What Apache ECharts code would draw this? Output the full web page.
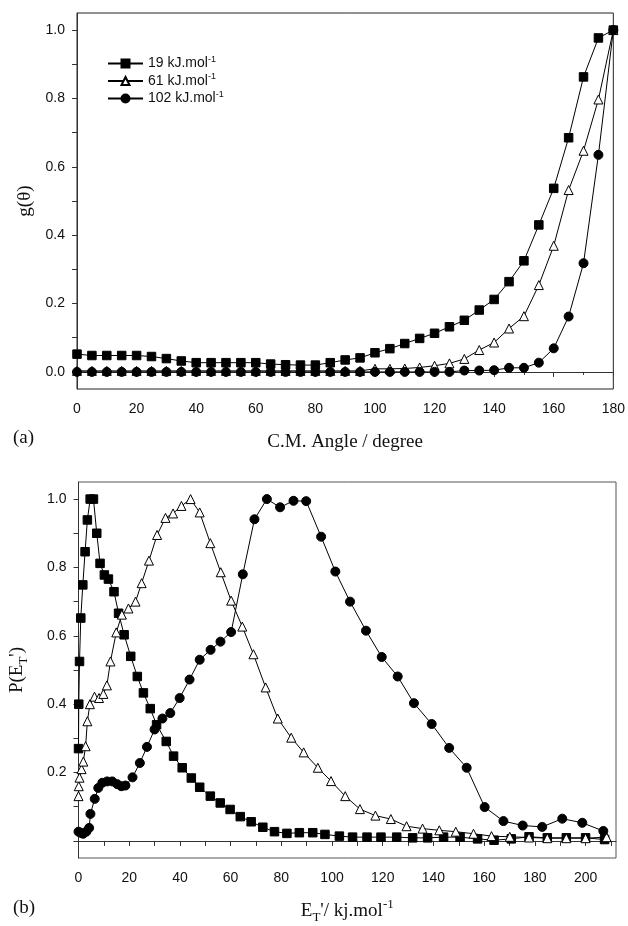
<!DOCTYPE html>
<html>
<head>
<meta charset="utf-8">
<script src="https://cdn.jsdelivr.net/npm/echarts@6/dist/echarts.min.js"></script>
<style>
  html, body { margin: 0; padding: 0; background: #fff; }
  #main { width: 628px; height: 926px; }
</style>
</head>
<body>
<div id="main"></div>
<script>
// panel (a): angular distributions
const angle = [0, 5, 10, 15, 20, 25, 30, 35, 40, 45, 50, 55, 60, 65, 70, 75, 80, 85, 90, 95,
  100, 105, 110, 115, 120, 125, 130, 135, 140, 145, 150, 155, 160, 165, 170, 175, 180];
const g19 = [0.052, 0.048, 0.048, 0.048, 0.048, 0.045, 0.039, 0.032, 0.027, 0.027, 0.027, 0.027,
  0.027, 0.023, 0.021, 0.020, 0.020, 0.027, 0.035, 0.041, 0.056, 0.068, 0.083, 0.098, 0.113,
  0.132, 0.151, 0.181, 0.212, 0.264, 0.325, 0.430, 0.537, 0.685, 0.863, 0.977, 1.0];
const g61 = [0.003, 0.003, 0.003, 0.003, 0.003, 0.003, 0.003, 0.003, 0.003, 0.003, 0.003, 0.003,
  0.003, 0.003, 0.003, 0.003, 0.003, 0.003, 0.003, 0.003, 0.009, 0.009, 0.010, 0.013, 0.018,
  0.025, 0.038, 0.064, 0.086, 0.127, 0.163, 0.254, 0.369, 0.532, 0.647, 0.797, 1.0];
const g102 = [0, 0, 0, 0, 0, 0, 0, 0, 0, 0, 0, 0, 0, 0, 0, 0, 0, 0, 0, 0, 0, 0, 0, 0, 0, 0,
  0.004, 0.004, 0.005, 0.012, 0.012, 0.027, 0.069, 0.162, 0.318, 0.635, 1.0];

// panel (b): translational energy distributions
const et19 = [0, 0.1, 0.4, 0.9, 1.7, 2.6, 3.5, 4.6, 5.9, 7.2, 8.5, 10.2, 11.8, 14.0, 15.8, 18.0,
  20.6, 23.2, 25.6, 28.3, 30.8, 34.6, 37.5, 40.9, 44.5, 47.8, 52.0, 55.9, 59.8, 63.8, 68.1, 72.7,
  77.3, 82.2, 87.1, 92.4, 97.2, 102.9, 108.1, 113.8, 119.3, 125.5, 131.8, 137.7, 144.0, 150.5,
  157.4, 163.9, 170.7, 177.7, 184.9, 192.4, 200.0, 207.5];
const p19 = [0.27, 0.40, 0.525, 0.652, 0.749, 0.846, 0.939, 1.0, 1.0, 0.90, 0.812, 0.778, 0.766,
  0.729, 0.666, 0.603, 0.54, 0.481, 0.433, 0.387, 0.34, 0.291, 0.248, 0.214, 0.184, 0.157, 0.131,
  0.111, 0.092, 0.071, 0.056, 0.04, 0.027, 0.022, 0.024, 0.024, 0.019, 0.014, 0.011, 0.011, 0.011,
  0.011, 0.009, 0.009, 0.011, 0.011, 0.006, 0.002, 0.006, 0.012, 0.009, 0.009, 0.009, 0.004];
const et61 = [0, 0.1, 0.4, 1.2, 1.9, 2.8, 3.5, 4.5, 6.3, 8.1, 9.8, 11.2, 12.6, 14.9, 17.1, 19.7,
  22.5, 24.9, 27.8, 31.0, 34.3, 37.3, 40.6, 44.2, 47.8, 52.0, 56.1, 60.2, 64.6, 69.0, 73.8, 78.6,
  83.9, 88.8, 94.4, 99.6, 105.2, 111.0, 117.1, 123.2, 129.4, 135.7, 142.3, 148.8, 155.8, 162.9,
  170.1, 177.7, 184.9, 192.4, 200.0, 208.3];
const p61 = [0.131, 0.16, 0.185, 0.21, 0.232, 0.277, 0.35, 0.40, 0.422, 0.418, 0.43, 0.455, 0.525,
  0.61, 0.662, 0.68, 0.70, 0.754, 0.82, 0.895, 0.945, 0.958, 0.98, 1.0, 0.961, 0.871, 0.786, 0.703,
  0.627, 0.546, 0.449, 0.358, 0.302, 0.259, 0.214, 0.175, 0.131, 0.093, 0.074, 0.064, 0.043, 0.036,
  0.031, 0.027, 0.021, 0.014, 0.012, 0.01, 0.008, 0.008, 0.008, 0.011];
const et102 = [0, 0.8, 1.8, 3.1, 4.2, 4.7, 6.4, 7.8, 9.4, 11.3, 13.3, 15.3, 16.9, 18.5, 21.3, 24.2,
  27.0, 30.0, 33.1, 36.2, 39.9, 43.8, 47.8, 52.1, 56.0, 60.2, 64.8, 69.4, 74.3, 79.5, 84.8, 89.8,
  95.7, 101.3, 107.1, 113.4, 119.6, 125.9, 132.3, 139.3, 146.2, 153.1, 160.2, 167.6, 175.2, 182.9,
  190.8, 198.7, 207.0];
const p102 = [0.027, 0.024, 0.021, 0.027, 0.038, 0.079, 0.123, 0.155, 0.17, 0.174, 0.174, 0.166,
  0.16, 0.162, 0.186, 0.228, 0.275, 0.326, 0.358, 0.374, 0.418, 0.472, 0.53, 0.559, 0.583, 0.611,
  0.78, 0.941, 1.0, 0.976, 0.995, 0.994, 0.89, 0.788, 0.70, 0.615, 0.538, 0.481, 0.403, 0.342,
  0.272, 0.214, 0.099, 0.058, 0.045, 0.041, 0.065, 0.053, 0.029];

const energies = ['19', '61', '102'];
const yLabelsA = [0, 0.2, 0.4, 0.6, 0.8, 1.0];
const yLabelsB = [0.2, 0.4, 0.6, 0.8, 1.0];
const yTicks = [0, 0.1, 0.2, 0.3, 0.4, 0.5, 0.6, 0.7, 0.8, 0.9, 1.0];
const xLabelsB = [0, 20, 40, 60, 80, 100, 120, 140, 160, 180, 200];
const xTicksB = [0, 10, 20, 30, 40, 50, 60, 70, 80, 90, 100, 110, 120, 130, 140, 150, 160, 170,
  180, 190, 200, 210];

const chart = echarts.init(document.getElementById('main'));

const sans = 'Liberation Sans, Arial, sans-serif';
const serif = 'Liberation Serif, Times New Roman, serif';
const names = energies.map(e => e + ' kJ.mol-1');

const zip = (xs, ys) => xs.map((x, i) => [x, ys[i]]);

const axisCommon = {
  axisLine: { lineStyle: { color: '#333', width: 1 } },
  axisTick: { lineStyle: { color: '#333' }, length: 5 },
  axisLabel: { color: '#111', fontFamily: sans, fontSize: 14 },
  splitLine: { show: false },
  nameTextStyle: { color: '#111', fontFamily: serif, fontSize: 19 }
};

const nameRich = {
  n: { fontFamily: serif, fontSize: 19, color: '#111', lineHeight: 26, verticalAlign: 'middle' },
  sub: { fontFamily: serif, fontSize: 13, color: '#111', lineHeight: 13, verticalAlign: 'bottom' },
  sup: { fontFamily: serif, fontSize: 13, color: '#111', lineHeight: 13, verticalAlign: 'top' }
};

const markers = [
  { symbol: 'rect', size: 8.5, fill: '#000' },
  { symbol: 'triangle', size: 9, fill: '#fff' },
  { symbol: 'circle', size: 9, fill: '#000' }
];

function makeSeries(i, data, axisIdx) {
  return {
    name: names[i],
    type: 'line',
    xAxisIndex: axisIdx,
    yAxisIndex: axisIdx,
    data: data,
    symbol: markers[i].symbol,
    symbolSize: markers[i].size,
    showAllSymbol: true,
    animation: false,
    itemStyle: { color: markers[i].fill, borderColor: '#000', borderWidth: 1 },
    lineStyle: { color: '#000', width: 1 }
  };
}

const option = {
  backgroundColor: '#fff',
  animation: false,
  grid: [
    { left: 77, right: 12, top: 13, height: 376, show: true, borderColor: '#222', borderWidth: 1 },
    { left: 77, right: 12, top: 482, height: 376, show: true, borderColor: '#555', borderWidth: 1 }
  ],
  legend: {
    data: names,
    orient: 'vertical',
    left: 102,
    top: 50,
    itemWidth: 35,
    itemHeight: 10,
    itemGap: 2,
    textStyle: {
      fontFamily: sans, fontSize: 14, color: '#111',
      rich: {
        t: { fontFamily: sans, fontSize: 14, color: '#111', lineHeight: 17, verticalAlign: 'middle' },
        s: { fontFamily: sans, fontSize: 9, color: '#111', lineHeight: 9, verticalAlign: 'top' }
      }
    },
    formatter: name => '{t|' + name.replace('-1', '') + '}{s|-1}'
  },
  xAxis: [
    Object.assign({}, axisCommon, {
      gridIndex: 0, type: 'value', min: 0, max: 180, interval: 20,
      minorTick: { show: true, splitNumber: 2, length: 3, lineStyle: { color: '#333' } },
      axisLabel: Object.assign({}, axisCommon.axisLabel, { margin: 13 }),
      name: 'C.M. Angle / degree', nameLocation: 'middle', nameGap: 44
    }),
    Object.assign({}, axisCommon, {
      gridIndex: 1, type: 'value', min: 0, max: 212,
      axisLabel: Object.assign({}, axisCommon.axisLabel, { margin: 13, customValues: xLabelsB }),
      axisTick: Object.assign({}, axisCommon.axisTick, { customValues: xTicksB }),
      name: "{n|E}{sub|T}{n|'/ kj.mol}{sup|-1}", nameLocation: 'middle', nameGap: 40,
      nameTextStyle: { rich: nameRich }
    })
  ],
  yAxis: [
    Object.assign({}, axisCommon, {
      gridIndex: 0, type: 'value', min: -0.05, max: 1.05,
      axisLabel: Object.assign({}, axisCommon.axisLabel, {
        margin: 12, customValues: yLabelsA, formatter: v => v.toFixed(1)
      }),
      axisTick: Object.assign({}, axisCommon.axisTick, { customValues: yTicks }),
      name: 'g(θ)', nameLocation: 'middle', nameGap: 42
    }),
    Object.assign({}, axisCommon, {
      gridIndex: 1, type: 'value', min: -0.05, max: 1.05,
      axisLabel: Object.assign({}, axisCommon.axisLabel, {
        margin: 12, customValues: yLabelsB, formatter: v => v.toFixed(1)
      }),
      axisTick: Object.assign({}, axisCommon.axisTick, { customValues: yTicks }),
      name: "{n|P(E}{sub|T}{n|')}", nameLocation: 'middle', nameGap: 48,
      nameTextStyle: { rich: nameRich }
    })
  ],
  graphic: [
    { type: 'text', left: 13, top: 429, style: { text: '(a)', font: '19px ' + serif, fill: '#111' } },
    { type: 'text', left: 13, top: 899, style: { text: '(b)', font: '19px ' + serif, fill: '#111' } }
  ],
  series: [
    makeSeries(0, zip(angle, g19), 0),
    makeSeries(1, zip(angle, g61), 0),
    makeSeries(2, zip(angle, g102), 0),
    makeSeries(0, zip(et19, p19), 1),
    makeSeries(1, zip(et61, p61), 1),
    makeSeries(2, zip(et102, p102), 1)
  ]
};

option && chart.setOption(option);
</script>
</body>
</html>
